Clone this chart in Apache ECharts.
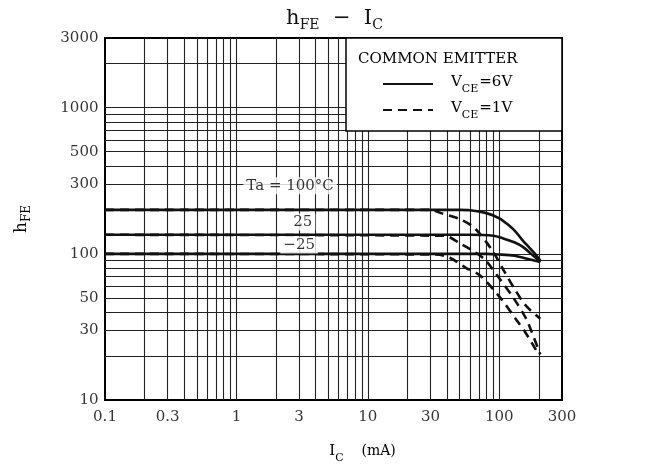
<!DOCTYPE html>
<html lang="en">
<head>
    <meta charset="UTF-8">
    <title>hFE - IC</title>
    <script src="https://cdn.jsdelivr.net/npm/echarts@6.0.0/dist/echarts.min.js"></script>
</head>
<body style="margin:0;background:#fff;">
<div id="main" style="width:669px;height:472px;"></div>
<script type="text/javascript">
    // 读图数据 (IC 单位 mA)
    var xTicks = [0.1, 0.3, 1, 3, 10, 30, 100, 300];
    var yTicks = [10, 30, 50, 100, 300, 500, 1000, 3000];
    var xGrid = [0.2, 0.3, 0.4, 0.5, 0.6, 0.7, 0.8, 0.9, 1, 2, 3, 4, 5, 6, 7, 8, 9, 10,
                 20, 30, 40, 50, 60, 70, 80, 90, 100, 200];
    var yGrid = [20, 30, 40, 50, 60, 70, 80, 90, 100, 200, 300, 400, 500, 600, 700, 800, 900, 1000, 2000];

    // VCE = 6V (实线)
    var ic6_100 = [0.1, 50, 60, 80, 100, 117, 135, 150, 170, 187, 205];
    var hfe6_100 = [200, 200, 199, 190, 175, 158, 140, 124, 110, 100, 90];
    var ic6_25 = [0.1, 60, 90, 106, 130, 150, 175, 205];
    var hfe6_25 = [135, 135, 133, 128, 120, 112, 100, 88];
    var ic6_m25 = [0.1, 80, 100, 130, 160, 205];
    var hfe6_m25 = [100, 100, 99, 97, 93, 88];

    // VCE = 1V (虚线)
    var ic1_100 = [0.1, 30, 36, 50, 65, 88, 110, 130, 160, 205];
    var hfe1_100 = [200, 200, 190, 173, 150, 106, 75, 58, 44, 36];
    var ic1_25 = [0.1, 38, 51, 65, 78, 100, 130, 160, 177, 205];
    var hfe1_25 = [135, 133, 117, 103, 91, 68, 49, 36, 29, 20.5];
    var ic1_m25 = [0.1, 33, 42, 56, 71, 100, 136, 158, 190];
    var hfe1_m25 = [100, 99, 94, 80, 71.5, 51, 35, 29, 22];

    // 温度标注
    var notes = [
        {name: 'Ta = 100°C', value: [2.56, 292]},
        {name: '25', value: [3.2, 165]},
        {name: '−25', value: [3.0, 115]}
    ];

    var serif = 'DejaVu Serif';

    function zip(xs, ys) {
        var out = [];
        for (var i = 0; i < xs.length; i++) {
            out.push([xs[i], ys[i]]);
        }
        return out;
    }

    function curve(name, xs, ys, dashed) {
        return {
            name: name,
            type: 'line',
            data: zip(xs, ys),
            symbol: 'none',
            smooth: 0.3,
            z: 5,
            lineStyle: {color: '#111', width: 2.6, type: dashed ? [9, 6] : 'solid'},
            itemStyle: {color: '#111'},
            silent: true
        };
    }

    var gridLines = [];
    for (var i = 0; i < xGrid.length; i++) gridLines.push({xAxis: xGrid[i]});
    for (var j = 0; j < yGrid.length; j++) gridLines.push({yAxis: yGrid[j]});

    var xLabelData = xTicks.map(function (v) { return {name: String(v), value: [v, 10]}; });
    var yLabelData = yTicks.map(function (v) { return {name: String(v), value: [0.1, v]}; });

    var myChart = echarts.init(document.getElementById('main'));
    myChart.setOption({
        animation: false,
        backgroundColor: '#fff',
        title: {
            text: '{h|h}{s|FE}{h|  −  I}{s|C}',
            left: 'center',
            top: 3,
            textStyle: {
                fontWeight: 'normal',
                rich: {
                    h: {fontFamily: serif, fontSize: 21, color: '#111', fontWeight: 'normal', lineHeight: 26, verticalAlign: 'top'},
                    s: {fontFamily: serif, fontSize: 14, color: '#111', fontWeight: 'normal', lineHeight: 16, verticalAlign: 'top', padding: [10, 0, 0, 0]}
                }
            }
        },
        grid: {
            left: 105, right: 107, top: 38, bottom: 72,
            show: true, borderColor: '#000', borderWidth: 2, backgroundColor: '#fff'
        },
        legend: {
            orient: 'vertical',
            left: 377,
            top: 70,
            itemWidth: 50,
            itemHeight: 14,
            itemGap: 6,
            data: ['VCE=6V', 'VCE=1V'],
            z: 20,
            itemStyle: {opacity: 0},
            formatter: function (n) {
                return '{p|V}{s|CE}{v|' + n.slice(3) + '}';
            },
            textStyle: {
                rich: {
                    p: {fontFamily: serif, fontSize: 15, color: '#000', padding: [0, 0, 0, 13], lineHeight: 18, verticalAlign: 'top'},
                    v: {fontFamily: serif, fontSize: 15, color: '#000', lineHeight: 18, verticalAlign: 'top'},
                    s: {fontFamily: serif, fontSize: 11, color: '#000', lineHeight: 12, verticalAlign: 'top', padding: [9, 1, 0, 0]}
                }
            }
        },
        graphic: [
            {
                type: 'rect', z: 10,
                shape: {x: 346, y: 38, width: 216, height: 93},
                style: {fill: '#fff', stroke: '#000', lineWidth: 1.5}
            },
            {
                type: 'text', z: 21, left: 358, top: 52,
                style: {text: 'COMMON EMITTER', fontFamily: serif, fontSize: 15, fill: '#000'}
            }
        ],
        xAxis: {
            type: 'log', logBase: 10, min: 0.1, max: 300,
            axisLine: {show: false}, axisTick: {show: false},
            axisLabel: {show: false}, splitLine: {show: false},
            name: '{i|I}{s|C}{m|    (mA)}',
            nameLocation: 'middle',
            nameGap: 44,
            nameTextStyle: {
                padding: [0, 0, 0, 58],
                rich: {
                    i: {fontFamily: serif, fontSize: 15, color: '#000', lineHeight: 18, verticalAlign: 'top'},
                    s: {fontFamily: serif, fontSize: 11, color: '#000', lineHeight: 12, verticalAlign: 'top', padding: [9, 0, 0, 0]},
                    m: {fontFamily: serif, fontSize: 14, color: '#000', lineHeight: 18, verticalAlign: 'top'}
                }
            }
        },
        yAxis: {
            type: 'log', logBase: 10, min: 10, max: 3000,
            axisLine: {show: false}, axisTick: {show: false},
            axisLabel: {show: false}, splitLine: {show: false},
            name: '{h|h}{s|FE}',
            nameLocation: 'middle',
            nameGap: 72,
            nameTextStyle: {
                rich: {
                    h: {fontFamily: serif, fontSize: 17, color: '#000', lineHeight: 20, verticalAlign: 'top'},
                    s: {fontFamily: serif, fontSize: 12, color: '#000', lineHeight: 14, verticalAlign: 'top', padding: [8, 0, 0, 0]}
                }
            }
        },
        series: [
            {
                name: 'grid',
                type: 'line',
                data: [],
                z: 1,
                silent: true,
                markLine: {
                    silent: true,
                    symbol: ['none', 'none'],
                    label: {show: false},
                    lineStyle: {color: '#222', width: 1.1, type: 'solid'},
                    emphasis: {disabled: true},
                    data: gridLines
                }
            },
            curve('VCE=6V', ic6_100, hfe6_100, false),
            curve('VCE=6V', ic6_25, hfe6_25, false),
            curve('VCE=6V', ic6_m25, hfe6_m25, false),
            curve('VCE=1V', ic1_100, hfe1_100, true),
            curve('VCE=1V', ic1_25, hfe1_25, true),
            curve('VCE=1V', ic1_m25, hfe1_m25, true),
            {
                name: 'xlabels', type: 'scatter', data: xLabelData,
                symbolSize: 1, itemStyle: {color: 'rgba(0,0,0,0)'}, silent: true, clip: false,
                label: {show: true, position: 'bottom', distance: 9, formatter: '{b}',
                        fontFamily: serif, fontSize: 15, color: '#000'}
            },
            {
                name: 'ylabels', type: 'scatter', data: yLabelData,
                symbolSize: 1, itemStyle: {color: 'rgba(0,0,0,0)'}, silent: true, clip: false,
                label: {show: true, position: 'left', distance: 6, formatter: '{b}',
                        fontFamily: serif, fontSize: 15, color: '#000'}
            },
            {
                name: 'notes', type: 'scatter', data: notes, z: 6,
                symbolSize: 1, itemStyle: {color: 'rgba(0,0,0,0)'}, silent: true,
                label: {show: true, position: 'inside', formatter: '{b}',
                        fontFamily: serif, fontSize: 15, color: '#000',
                        backgroundColor: '#fff', padding: [1, 3]}
            }
        ]
    });
</script>
</body>
</html>
